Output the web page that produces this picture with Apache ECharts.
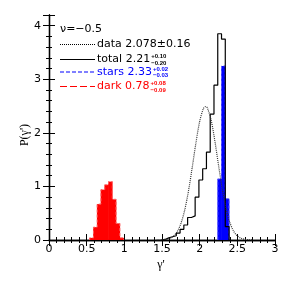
<!DOCTYPE html>
<html>
<head>
<meta charset="utf-8">
<script src="https://cdn.jsdelivr.net/npm/echarts@6/dist/echarts.min.js"></script>
<style>
html,body{margin:0;padding:0;background:#fff;}
#chart{width:283px;height:283px;}
</style>
</head>
<body>
<div id="chart"></div>
<script>
// ---- data ----
const binWidth = 0.05;
const totalLeft   = [1.49,1.54,1.59,1.64,1.69,1.74,1.79,1.84,1.89,1.94,1.99,2.04,2.09,2.14,2.19,2.24,2.29,2.34];
const totalHeight = [0.01,0.04,0.06,0.08,0.13,0.20,0.28,0.42,0.45,0.80,1.12,1.33,1.64,2.35,2.89,3.85,3.75,0.25];
const starsLeft   = [2.24,2.29,2.34];
const starsHeight = [1.14,3.25,0.77];
const darkLeft    = [0.54,0.59,0.64,0.69,0.74,0.79,0.84,0.89,0.94];
const darkHeight  = [0.04,0.24,0.67,0.94,1.03,1.09,0.76,0.31,0.04];
const dataX = [1.40,1.45,1.50,1.55,1.60,1.65,1.70,1.75,1.80,1.85,1.90,1.95,2.00,2.05,2.078,2.10,2.15,2.20,2.25,2.30,2.35,2.40,2.45,2.50,2.55,2.60,2.65,2.70];
const dataY = [0.000,0.001,0.004,0.011,0.029,0.070,0.153,0.305,0.551,0.903,1.343,1.810,2.214,2.455,2.490,2.470,2.253,1.864,1.399,0.952,0.588,0.329,0.167,0.077,0.032,0.012,0.004,0.001];
const xTickLabels = ['0','0.5','1','1.5','2','2.5','3'];
const yTickLabels = ['0','1','2','3','4'];
const xTitle = "γ'";
const yTitle = "P(γ')";
const nuText = 'ν=−0.5';
const legendItems = [
  {name:'data',  value:'2.078±0.16', sup:'',      sub:''},
  {name:'total', value:'2.21',       sup:'+0.10', sub:'−0.20'},
  {name:'stars', value:'2.33',       sup:'+0.02', sub:'−0.03'},
  {name:'dark',  value:'0.78',       sup:'+0.08', sub:'−0.09'}
];

// ---- build ----
const chart = echarts.init(document.getElementById('chart'), null, {renderer:'canvas'});

function stepOutline(left, height) {
  const pts = [[left[0], 0]];
  left.forEach((l, i) => {
    pts.push([l, height[i]]);
    pts.push([l + binWidth, height[i]]);
  });
  pts.push([left[left.length-1] + binWidth, 0]);
  return pts;
}

function barSeries(left, height, fill) {
  return {
    type: 'custom', xAxisIndex: 0, yAxisIndex: 0,
    data: left.map((l, i) => [l, height[i]]),
    encode: {x: 0, y: 1},
    renderItem: function (params, api) {
      const l = api.value(0), h = api.value(1);
      const p0 = api.coord([l, 0]);
      const p1 = api.coord([l + binWidth, h]);
      return {
        type: 'rect',
        shape: {x: p0[0] - 0.3, y: p1[1], width: p1[0] - p0[0] + 0.6, height: p0[1] - p1[1]},
        style: {fill: fill}
      };
    },
    z: 2
  };
}
function outlineSeries(left, height, color) {
  return {type: 'line', xAxisIndex: 0, yAxisIndex: 0, data: stepOutline(left, height),
    showSymbol: false, symbol: 'none', lineStyle: {color: color, width: 1, type: [3, 2]}, z: 2.5};
}

const FONT = '"DejaVu Sans", sans-serif';
const SERIF = '"Liberation Serif", serif';
const axisLine = {show: true, lineStyle: {color: '#000', width: 1.3}};

function xAx(pos, interval, tickLen, labels, line) {
  return {
    type: 'value', min: 0, max: 3, interval: interval, position: pos,
    axisLine: line ? axisLine : {show: false},
    axisTick: {show: true, inside: true, length: tickLen, lineStyle: {color: '#000', width: 1}},
    axisLabel: labels ? {show: true, margin: 4, color: '#000', fontSize: 11, fontFamily: FONT,
      formatter: v => { const i = Math.round(v / 0.5); return Math.abs(v - i*0.5) < 1e-6 ? xTickLabels[i] : ''; }} : {show: false},
    splitLine: {show: false}
  };
}
function yAx(pos, interval, tickLen, labels, line) {
  return {
    type: 'value', min: 0, max: 4.2, interval: interval, position: pos,
    axisLine: line ? axisLine : {show: false},
    axisTick: {show: true, inside: true, length: tickLen, lineStyle: {color: '#000', width: 1}},
    axisLabel: labels ? {show: true, margin: 8, color: '#000', fontSize: 11, fontFamily: FONT,
      formatter: v => { const i = Math.round(v); return Math.abs(v - i) < 1e-6 && i < yTickLabels.length ? yTickLabels[i] : ''; }} : {show: false},
    splitLine: {show: false}
  };
}

// legend & title graphics
const graphics = [];
graphics.push({type: 'text', x: 25, y: 135, rotation: Math.PI / 2,
  style: {text: yTitle, font: '12px ' + SERIF, fill: '#000', align: 'center', verticalAlign: 'middle'}});
graphics.push({type: 'text', x: 161, y: 265,
  style: {text: xTitle, font: '12px ' + SERIF, fill: '#000', align: 'center', verticalAlign: 'middle'}});
graphics.push({type: 'text', style: {text: nuText, x: 60, y: 29.5, font: '11px ' + FONT, fill: '#000', verticalAlign: 'middle'}});
const rowY = [44.5, 59.5, 72, 86.5];
const rowColor = ['#000', '#000', '#0000ff', '#ff0000'];
const rowDash = [[1, 1], null, [4, 2], [7, 3]];
const mctx = document.createElement('canvas').getContext('2d');
legendItems.forEach((it, k) => {
  const y = rowY[k];
  graphics.push({type: 'line', shape: {x1: 60, y1: y, x2: 95, y2: y},
    style: {stroke: rowColor[k], lineWidth: k === 0 ? 1 : 1.2, lineDash: rowDash[k]}});
  const main = it.name + ' ' + it.value;
  const font = '11px ' + FONT;
  graphics.push({type: 'text', style: {text: main, x: 97, y: y, font: font, fill: rowColor[k], verticalAlign: 'middle'}});
  mctx.font = font;
  const w = mctx.measureText(main).width;
  if (it.sup) {
    const sf = 'bold 6px "Liberation Sans", sans-serif';
    graphics.push({type: 'text', style: {text: it.sup, x: 97 + w + 1, y: y - 2.8, font: sf, fill: rowColor[k], verticalAlign: 'middle'}});
    graphics.push({type: 'text', style: {text: it.sub, x: 97 + w + 1, y: y + 3.6, font: sf, fill: rowColor[k], verticalAlign: 'middle'}});
  }
});

const option = {
  animation: false,
  backgroundColor: '#fff',
  grid: {left: 49, right: 8, top: 15, bottom: 43},
  xAxis: [xAx('bottom', 0.5, 6, true, true), xAx('bottom', 0.1, 3, false, false),
          xAx('top', 0.5, 6, false, true), xAx('top', 0.1, 3, false, false)],
  yAxis: [yAx('left', 1, 6, true, true), yAx('left', 0.2, 3, false, false),
          yAx('right', 1, 6, false, true), yAx('right', 0.2, 3, false, false)],
  series: [
    barSeries(darkLeft, darkHeight, '#ff0000'),
    outlineSeries(darkLeft, darkHeight, '#ff6060'),
    barSeries(starsLeft, starsHeight, '#0000ff'),
    outlineSeries(starsLeft, starsHeight, '#6060ff'),
    {type: 'line', xAxisIndex: 0, yAxisIndex: 0, data: stepOutline(totalLeft, totalHeight), showSymbol: false, symbol: 'none',
     lineStyle: {color: '#000', width: 1.2}, z: 3},
    {type: 'line', xAxisIndex: 0, yAxisIndex: 0, data: dataX.map((x, i) => [x, dataY[i]]),
     showSymbol: false, symbol: 'none', smooth: 0.3,
     lineStyle: {color: '#333', width: 1.2, type: [1, 1]}, z: 4}
  ],
  graphic: graphics
};
chart.setOption(option);
</script>
</body>
</html>
